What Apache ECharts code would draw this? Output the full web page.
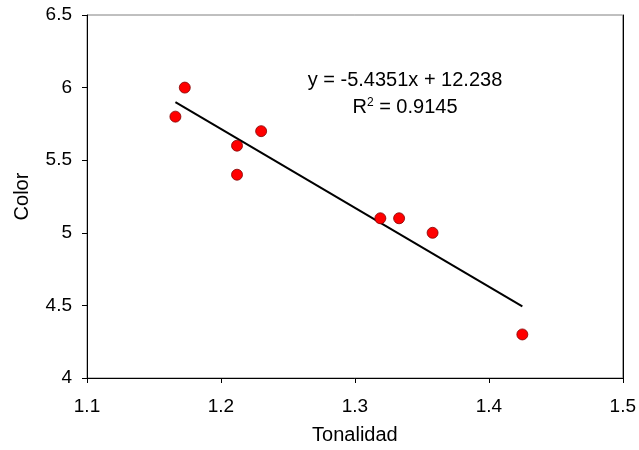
<!DOCTYPE html>
<html><head><meta charset="utf-8">
<script src="https://cdn.jsdelivr.net/npm/echarts@6/dist/echarts.min.js"></script>
<style>html,body{margin:0;padding:0;background:#fff}#c{width:639px;height:450px}</style>
</head><body><div id="c"></div>
<script>
const tonalidad = [1.166, 1.173, 1.212, 1.212, 1.230, 1.319, 1.333, 1.358, 1.425];
const color = [5.8, 6.0, 5.6, 5.4, 5.7, 5.1, 5.1, 5.0, 4.3];
const slope = -5.4351;
const intercept = 12.238;
const r2 = 0.9145;
const xTicks = [1.1, 1.2, 1.3, 1.4, 1.5];
const yTicks = [4, 4.5, 5, 5.5, 6, 6.5];

const pts = tonalidad.map((x, i) => [x, color[i]]);
const xMin = Math.min(...tonalidad), xMax = Math.max(...tonalidad);
const trend = [[xMin, slope * xMin + intercept], [xMax, slope * xMax + intercept]];
const FONT = 'Liberation Sans, Arial, sans-serif';

const chart = echarts.init(document.getElementById('c'), null, {renderer: 'canvas'});
chart.setOption({
  animation: false,
  grid: {left: 87, right: 16, top: 15, bottom: 72, show: true, borderColor: '#808080', borderWidth: 1, backgroundColor: 'transparent'},
  xAxis: {
    type: 'value', min: xTicks[0], max: xTicks[xTicks.length - 1], interval: 0.1,
    name: 'Tonalidad', nameLocation: 'middle', nameGap: 47,
    nameTextStyle: {fontFamily: FONT, fontSize: 20, color: '#000'},
    axisLine: {show: true, lineStyle: {color: '#000', width: 1}},
    axisTick: {show: true, inside: false, length: 5, lineStyle: {color: '#000'}},
    axisLabel: {fontFamily: FONT, fontSize: 19, color: '#000', margin: 19, formatter: v => v.toFixed(1)},
    splitLine: {show: false}
  },
  yAxis: [{
    type: 'value', min: yTicks[0], max: yTicks[yTicks.length - 1], interval: 0.5,
    name: 'Color', nameLocation: 'middle', nameGap: 55, nameRotate: 90,
    nameTextStyle: {fontFamily: FONT, fontSize: 20, color: '#000'},
    axisLine: {show: true, lineStyle: {color: '#000', width: 1}},
    axisTick: {show: true, inside: false, length: 5, lineStyle: {color: '#000'}},
    axisLabel: {fontFamily: FONT, fontSize: 19, color: '#000', margin: 15, formatter: v => String(v)},
    splitLine: {show: false}
  }, {
    type: 'value', position: 'right', min: yTicks[0], max: yTicks[yTicks.length - 1], interval: 0.5,
    axisLine: {show: true, lineStyle: {color: '#000', width: 1}},
    axisTick: {show: false}, axisLabel: {show: false}, splitLine: {show: false}
  }],
  series: [
    {type: 'line', data: trend, symbol: 'none', lineStyle: {color: '#000', width: 2}, z: 2},
    {type: 'scatter', data: pts, symbol: 'circle', symbolSize: 11,
     itemStyle: {color: '#FF0000', borderColor: '#800000', borderWidth: 0.8, opacity: 1}, z: 3}
  ],
  graphic: [
    {type: 'text', position: [405, 80], style: {
      text: 'y = ' + slope + 'x + ' + intercept, font: '20px ' + FONT, fill: '#000',
      textAlign: 'center', textVerticalAlign: 'middle'}},
    {type: 'text', position: [405, 107], style: {
      text: '{r|R}{s|2}{r| = ' + r2 + '}', textAlign: 'center', textVerticalAlign: 'middle',
      rich: {r: {font: '20px ' + FONT, fill: '#000', color: '#000'},
             s: {font: '12px ' + FONT, fill: '#000', color: '#000', verticalAlign: 'top', padding: [0, 0, 9, 0]}}}}
  ]
});
</script></body></html>
